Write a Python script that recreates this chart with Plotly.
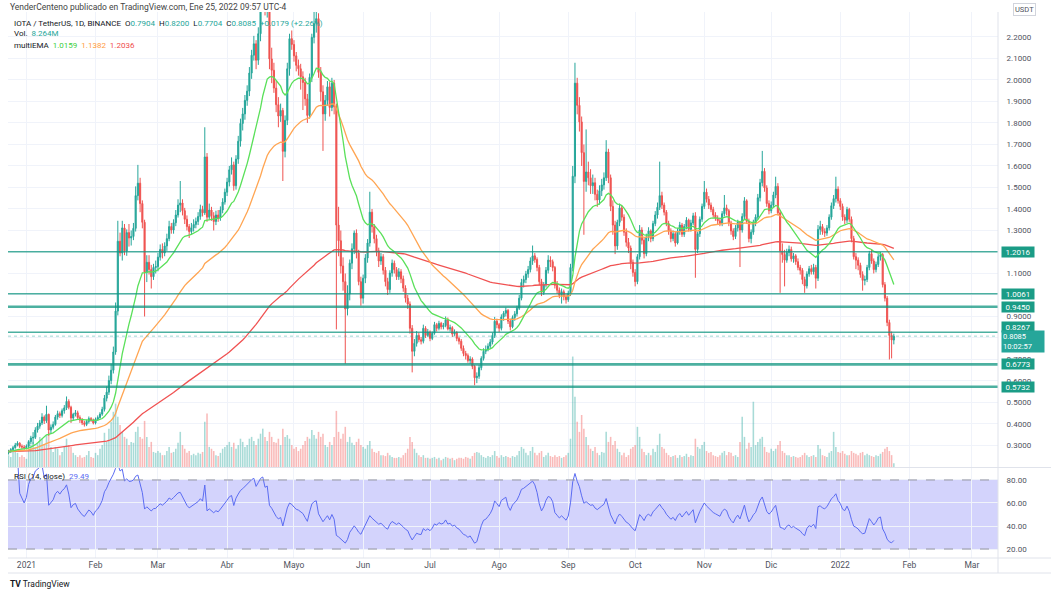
import numpy as np
import pandas as pd
import plotly.graph_objects as go

# ---------------- data ----------------
START_DATE = "2020-12-24"
FIRST_OPEN = 0.265

CLOSE = [
    0.272, 0.281, 0.290, 0.302, 0.311, 0.296, 0.293,
    0.290, 0.296, 0.318, 0.335, 0.338, 0.372, 0.390,
    0.405, 0.432, 0.415, 0.445, 0.372, 0.385, 0.398,
    0.432, 0.448, 0.440, 0.462, 0.475, 0.505, 0.478,
    0.428, 0.445, 0.452, 0.430, 0.418, 0.405, 0.398,
    0.412, 0.425, 0.418, 0.405, 0.422, 0.430, 0.446,
    0.468, 0.520, 0.548, 0.602, 0.650, 0.735, 0.925,
    1.250, 1.195, 1.312, 1.205, 1.290, 1.265, 1.272,
    1.310, 1.462, 1.520, 1.425, 1.338, 1.105, 1.152,
    1.118, 1.085, 1.128, 1.132, 1.176, 1.212, 1.195,
    1.228, 1.262, 1.318, 1.302, 1.336, 1.372, 1.418,
    1.428, 1.392, 1.352, 1.318, 1.295, 1.312, 1.328,
    1.342, 1.365, 1.398, 1.382, 1.642, 1.362, 1.395,
    1.368, 1.342, 1.372, 1.358, 1.395, 1.432, 1.478,
    1.525, 1.582, 1.605, 1.508, 1.632, 1.715, 1.798,
    1.842, 1.905, 1.948, 2.032, 2.115, 2.168, 2.092,
    2.215, 2.385, 2.452, 2.335, 2.380, 2.098, 2.045,
    1.962, 1.885, 1.832, 1.858, 1.668, 1.812, 2.052,
    2.192, 2.165, 2.112, 2.068, 2.052, 2.015, 1.988,
    1.912, 1.835, 2.012, 2.198, 2.262, 2.285, 2.035,
    1.945, 1.842, 1.905, 1.968, 1.872, 1.985, 1.875,
    1.325, 1.252, 1.135, 1.062, 0.935, 1.005, 1.148,
    1.215, 1.288, 1.195, 1.062, 0.985, 1.078, 1.172,
    1.242, 1.385, 1.318, 1.262, 1.205, 1.158, 1.178,
    1.115, 1.062, 1.025, 1.102, 1.148, 1.118, 1.085,
    1.108, 1.075, 1.032, 0.985, 0.958, 0.845, 0.738,
    0.775, 0.812, 0.792, 0.785, 0.845, 0.812, 0.828,
    0.798, 0.822, 0.862, 0.845, 0.868, 0.852, 0.858,
    0.885, 0.842, 0.848, 0.818, 0.825, 0.798, 0.785,
    0.752, 0.728, 0.718, 0.695, 0.702, 0.668, 0.615,
    0.622, 0.662, 0.705, 0.738, 0.745, 0.762, 0.781,
    0.812, 0.878, 0.862, 0.845, 0.898, 0.915, 0.928,
    0.878, 0.852, 0.895, 0.912, 0.938, 0.985, 1.058,
    1.072, 1.098, 1.118, 1.158, 1.182, 1.165, 1.128,
    1.062, 1.012, 1.048, 1.115, 1.162, 1.155, 1.128,
    1.045, 1.022, 0.998, 1.015, 0.992, 0.978, 1.008,
    1.128, 1.552, 1.985, 1.882, 1.805, 1.662, 1.528,
    1.572, 1.545, 1.508, 1.522, 1.468, 1.442, 1.485,
    1.512, 1.545, 1.665, 1.545, 1.412, 1.325, 1.228,
    1.338, 1.405, 1.362, 1.292, 1.245, 1.218, 1.152,
    1.105, 1.062, 1.178, 1.302, 1.255, 1.192, 1.268,
    1.298, 1.262, 1.332, 1.372, 1.408, 1.462, 1.418,
    1.385, 1.332, 1.298, 1.262, 1.285, 1.242, 1.295,
    1.325, 1.282, 1.318, 1.348, 1.305, 1.335, 1.368,
    1.212, 1.285, 1.352, 1.412, 1.478, 1.445, 1.418,
    1.398, 1.372, 1.358, 1.345, 1.332, 1.378, 1.405,
    1.392, 1.335, 1.298, 1.272, 1.312, 1.338, 1.302,
    1.365, 1.438, 1.342, 1.262, 1.292, 1.335, 1.362,
    1.452, 1.522, 1.575, 1.498, 1.425, 1.392, 1.418,
    1.465, 1.505, 1.382, 1.205, 1.188, 1.162, 1.198,
    1.212, 1.168, 1.182, 1.155, 1.128, 1.115, 1.072,
    1.042, 1.098, 1.122, 1.108, 1.128, 1.078, 1.305,
    1.318, 1.295, 1.288, 1.312, 1.362, 1.415, 1.448,
    1.492, 1.438, 1.412, 1.362, 1.348, 1.398, 1.352,
    1.262, 1.178, 1.162, 1.138, 1.095, 1.068, 1.072,
    1.128, 1.192, 1.158, 1.118, 1.142, 1.178, 1.188,
    1.048, 0.985, 0.872, 0.812, 0.7904, 0.8085,
]

HIGH = [
    0.280, 0.288, 0.298, 0.312, 0.320, 0.315, 0.305,
    0.302, 0.305, 0.325, 0.345, 0.362, 0.385, 0.405,
    0.418, 0.450, 0.440, 0.485, 0.448, 0.398, 0.412,
    0.442, 0.462, 0.458, 0.472, 0.488, 0.528, 0.515,
    0.485, 0.452, 0.465, 0.462, 0.440, 0.428, 0.415,
    0.420, 0.435, 0.432, 0.425, 0.430, 0.440, 0.455,
    0.480, 0.535, 0.575, 0.625, 0.680, 0.760, 0.965,
    1.345, 1.290, 1.345, 1.330, 1.305, 1.330, 1.300,
    1.335, 1.505, 1.605, 1.545, 1.440, 1.350, 1.185,
    1.185, 1.140, 1.145, 1.160, 1.195, 1.235, 1.240,
    1.245, 1.285, 1.345, 1.335, 1.352, 1.395, 1.445,
    1.530, 1.445, 1.405, 1.370, 1.330, 1.335, 1.352,
    1.360, 1.385, 1.420, 1.415, 1.780, 1.660, 1.425,
    1.410, 1.385, 1.392, 1.395, 1.412, 1.450, 1.495,
    1.545, 1.600, 1.640, 1.620, 1.650, 1.740, 1.820,
    1.870, 1.930, 1.975, 2.060, 2.140, 2.205, 2.185,
    2.245, 2.420, 2.620, 2.480, 2.420, 2.400, 2.150,
    2.080, 1.995, 1.920, 1.890, 1.870, 1.835, 2.080,
    2.215, 2.230, 2.185, 2.130, 2.095, 2.075, 2.040,
    2.010, 1.935, 2.030, 2.215, 2.320, 2.340, 2.310,
    2.060, 1.975, 1.930, 1.995, 1.990, 2.010, 2.000,
    1.890, 1.410, 1.300, 1.175, 1.100, 1.045, 1.165,
    1.240, 1.300, 1.305, 1.210, 1.085, 1.095, 1.190,
    1.260, 1.480, 1.400, 1.330, 1.280, 1.220, 1.195,
    1.190, 1.130, 1.080, 1.115, 1.165, 1.160, 1.130,
    1.125, 1.120, 1.090, 1.045, 1.000, 0.970, 0.860,
    0.795, 0.832, 0.825, 0.805, 0.862, 0.855, 0.842,
    0.835, 0.830, 0.875, 0.870, 0.880, 0.875, 0.870,
    0.900, 0.895, 0.862, 0.855, 0.840, 0.832, 0.805,
    0.795, 0.765, 0.740, 0.728, 0.715, 0.710, 0.675,
    0.640, 0.675, 0.715, 0.752, 0.765, 0.775, 0.795,
    0.825, 0.898, 0.890, 0.870, 0.910, 0.925, 0.942,
    0.935, 0.890, 0.905, 0.925, 0.950, 1.000, 1.075,
    1.090, 1.112, 1.135, 1.175, 1.230, 1.195, 1.175,
    1.140, 1.075, 1.060, 1.130, 1.185, 1.180, 1.165,
    1.135, 1.065, 1.035, 1.030, 1.025, 1.005, 1.020,
    1.145, 1.600, 2.080, 2.010, 1.920, 1.830, 1.700,
    1.770, 1.620, 1.585, 1.560, 1.545, 1.490, 1.510,
    1.540, 1.570, 1.720, 1.680, 1.560, 1.440, 1.345,
    1.350, 1.425, 1.415, 1.375, 1.310, 1.265, 1.230,
    1.165, 1.120, 1.190, 1.325, 1.315, 1.265, 1.285,
    1.315, 1.305, 1.345, 1.390, 1.430, 1.620, 1.480,
    1.430, 1.395, 1.345, 1.310, 1.300, 1.295, 1.310,
    1.340, 1.335, 1.330, 1.362, 1.355, 1.350, 1.382,
    1.385, 1.295, 1.365, 1.425, 1.530, 1.495, 1.460,
    1.430, 1.410, 1.385, 1.370, 1.360, 1.390, 1.465,
    1.420, 1.400, 1.345, 1.310, 1.325, 1.350, 1.345,
    1.380, 1.455, 1.445, 1.355, 1.305, 1.350, 1.375,
    1.470, 1.540, 1.670, 1.590, 1.510, 1.440, 1.435,
    1.480, 1.550, 1.520, 1.395, 1.240, 1.210, 1.215,
    1.230, 1.225, 1.195, 1.190, 1.170, 1.140, 1.125,
    1.085, 1.110, 1.135, 1.140, 1.145, 1.140, 1.325,
    1.345, 1.330, 1.310, 1.325, 1.375, 1.430, 1.465,
    1.550, 1.505, 1.450, 1.425, 1.375, 1.410, 1.405,
    1.365, 1.275, 1.195, 1.175, 1.150, 1.110, 1.090,
    1.140, 1.205, 1.210, 1.170, 1.155, 1.190, 1.200,
    1.195, 1.060, 0.995, 0.885, 0.830, 0.8200,
]

LOW = [
    0.258, 0.265, 0.274, 0.285, 0.296, 0.288, 0.282,
    0.280, 0.282, 0.288, 0.305, 0.305, 0.330, 0.360,
    0.378, 0.395, 0.400, 0.405, 0.345, 0.355, 0.375,
    0.392, 0.420, 0.428, 0.430, 0.448, 0.465, 0.468,
    0.405, 0.418, 0.435, 0.422, 0.405, 0.395, 0.388,
    0.390, 0.402, 0.410, 0.398, 0.398, 0.415, 0.425,
    0.438, 0.458, 0.505, 0.535, 0.585, 0.635, 0.722,
    0.905, 1.180, 1.160, 1.185, 1.182, 1.225, 1.230,
    1.255, 1.295, 1.440, 1.385, 1.310, 0.900, 1.060,
    1.095, 1.030, 1.070, 1.100, 1.110, 1.160, 1.170,
    1.180, 1.205, 1.250, 1.285, 1.285, 1.320, 1.360,
    1.385, 1.370, 1.330, 1.300, 1.265, 1.280, 1.295,
    1.310, 1.325, 1.350, 1.365, 1.372, 1.340, 1.350,
    1.345, 1.300, 1.325, 1.340, 1.345, 1.380, 1.420,
    1.460, 1.505, 1.560, 1.485, 1.490, 1.610, 1.690,
    1.765, 1.815, 1.880, 1.925, 2.005, 2.090, 2.050,
    2.070, 2.180, 2.350, 2.300, 2.290, 2.050, 1.985,
    1.940, 1.850, 1.780, 1.805, 1.530, 1.640, 1.790,
    2.020, 2.140, 2.085, 2.040, 2.020, 1.955, 1.860,
    1.880, 1.800, 1.820, 1.990, 2.170, 2.220, 2.010,
    1.900, 1.670, 1.810, 1.880, 1.830, 1.855, 1.840,
    0.840, 1.180, 1.100, 1.020, 0.680, 0.905, 0.975,
    1.120, 1.190, 1.170, 1.045, 0.950, 0.960, 1.055,
    1.150, 1.225, 1.290, 1.240, 1.180, 1.130, 1.140,
    1.095, 1.040, 1.000, 1.010, 1.085, 1.100, 1.070,
    1.070, 1.055, 1.015, 0.965, 0.935, 0.820, 0.640,
    0.715, 0.760, 0.780, 0.770, 0.775, 0.800, 0.805,
    0.785, 0.790, 0.815, 0.830, 0.835, 0.840, 0.840,
    0.850, 0.835, 0.830, 0.805, 0.810, 0.785, 0.770,
    0.740, 0.715, 0.700, 0.685, 0.680, 0.655, 0.580,
    0.590, 0.610, 0.650, 0.695, 0.725, 0.738, 0.750,
    0.770, 0.800, 0.845, 0.828, 0.835, 0.880, 0.900,
    0.865, 0.835, 0.845, 0.880, 0.900, 0.930, 0.975,
    1.035, 1.055, 1.080, 1.105, 1.140, 1.150, 1.110,
    1.045, 0.995, 1.000, 1.035, 1.100, 1.130, 1.110,
    1.030, 1.005, 0.985, 0.960, 0.975, 0.960, 0.968,
    0.995, 1.110, 1.520, 1.840, 1.760, 1.600, 1.280,
    1.480, 1.510, 1.470, 1.470, 1.440, 1.410, 1.420,
    1.460, 1.490, 1.530, 1.520, 1.390, 1.280, 1.190,
    1.210, 1.320, 1.345, 1.275, 1.225, 1.195, 1.120,
    1.085, 1.040, 1.050, 1.165, 1.235, 1.170, 1.180,
    1.250, 1.245, 1.250, 1.320, 1.355, 1.395, 1.400,
    1.370, 1.320, 1.280, 1.245, 1.250, 1.225, 1.235,
    1.280, 1.270, 1.270, 1.305, 1.295, 1.295, 1.325,
    1.080, 1.195, 1.270, 1.340, 1.400, 1.430, 1.400,
    1.385, 1.360, 1.345, 1.330, 1.320, 1.320, 1.365,
    1.370, 1.320, 1.280, 1.255, 1.260, 1.295, 1.130,
    1.290, 1.350, 1.330, 1.245, 1.240, 1.280, 1.320,
    1.350, 1.435, 1.505, 1.480, 1.410, 1.375, 1.380,
    1.405, 1.450, 1.370, 1.010, 1.150, 1.040, 1.150,
    1.180, 1.155, 1.150, 1.140, 1.115, 1.095, 1.050,
    1.010, 1.030, 1.085, 1.095, 1.095, 1.030, 1.065,
    1.280, 1.280, 1.270, 1.275, 1.300, 1.350, 1.400,
    1.430, 1.425, 1.395, 1.345, 1.330, 1.335, 1.340,
    1.245, 1.165, 1.120, 1.115, 1.080, 1.020, 1.045,
    1.060, 1.115, 1.145, 1.100, 1.105, 1.130, 1.160,
    1.035, 0.970, 0.855, 0.700, 0.705, 0.7704,
]

VOLUME_M = [
    26, 22, 33, 40, 31, 22, 26,
    22, 18, 40, 48, 55, 44, 53,
    66, 62, 48, 70, 77, 44, 33,
    44, 40, 26, 33, 44, 62, 48,
    44, 31, 26, 22, 26, 20, 22,
    26, 35, 22, 20, 31, 26, 40,
    48, 75, 55, 84, 99, 121, 139,
    110, 92, 77, 66, 62, 48, 55,
    53, 77, 88, 66, 62, 101, 66,
    44, 55, 33, 31, 35, 31, 26,
    26, 35, 44, 31, 33, 40, 53,
    77, 48, 40, 31, 35, 26, 29,
    26, 31, 29, 33, 99, 117, 44,
    40, 35, 26, 24, 31, 40, 44,
    48, 55, 44, 53, 40, 48, 62,
    55, 44, 48, 62, 66, 57, 48,
    62, 73, 84, 66, 57, 77, 66,
    55, 53, 62, 48, 84, 66, 70,
    62, 48, 40, 44, 35, 40, 48,
    57, 66, 62, 81, 70, 62, 77,
    66, 73, 48, 44, 55, 48, 66,
    123, 77, 62, 73, 88, 55, 66,
    53, 48, 55, 62, 48, 44, 40,
    48, 57, 40, 33, 31, 35, 26,
    26, 24, 31, 26, 22, 20, 20,
    22, 20, 26, 31, 40, 66, 55,
    40, 31, 26, 22, 26, 20, 20,
    18, 20, 22, 18, 20, 15, 18,
    22, 20, 18, 20, 15, 18, 20,
    20, 18, 22, 20, 18, 24, 31,
    33, 31, 26, 22, 20, 24, 22,
    26, 35, 24, 20, 26, 22, 24,
    22, 20, 24, 22, 26, 35, 44,
    40, 31, 26, 35, 44, 31, 26,
    31, 35, 22, 26, 31, 24, 22,
    26, 22, 24, 20, 22, 26, 31,
    62, 242, 154, 99, 77, 114, 84,
    66, 48, 40, 35, 44, 31, 26,
    33, 31, 77, 55, 66, 48, 57,
    40, 33, 26, 31, 22, 26, 40,
    44, 48, 88, 66, 40, 33, 26,
    31, 26, 40, 33, 48, 73, 44,
    40, 31, 26, 22, 24, 26, 20,
    26, 22, 24, 29, 22, 26, 24,
    62, 44, 40, 48, 55, 35, 31,
    33, 26, 24, 22, 26, 31, 35,
    26, 33, 31, 24, 26, 22, 55,
    110, 66, 40, 53, 44, 143, 48,
    55, 62, 66, 44, 33, 31, 40,
    35, 40, 48, 57, 35, 31, 26,
    26, 22, 24, 22, 20, 22, 26,
    31, 26, 22, 24, 26, 22, 48,
    40, 26, 24, 22, 31, 35, 77,
    44, 33, 31, 35, 29, 26, 26,
    35, 31, 29, 26, 31, 33, 26,
    29, 26, 24, 22, 26, 24, 29,
    33, 40, 44, 35, 26, 8.264,
]

LEVELS = [1.2016, 1.0061, 0.9450, 0.8267, 0.6773, 0.5732]
LAST_PRICE = 0.8085
PRICE_TICKS = [0.3, 0.4, 0.5, 0.6, 0.7, 0.8, 0.9, 1.0, 1.1, 1.2, 1.3, 1.4,
               1.5, 1.6, 1.7, 1.8, 1.9, 2.0, 2.1, 2.2]
HIDDEN_TICKS = [0.8]          # covered by the last-price label in the picture
MONTH_TICKS = ["2021-01-01", "2021-02-01", "2021-03-01", "2021-04-01", "2021-05-01",
               "2021-06-01", "2021-07-01", "2021-08-01", "2021-09-01", "2021-10-01",
               "2021-11-01", "2021-12-01", "2022-01-01", "2022-02-01", "2022-03-01"]
MONTH_LABELS = ["2021", "Feb", "Mar", "Abr", "Mayo", "Jun", "Jul", "Ago", "Sep",
                "Oct", "Nov", "Dic", "2022", "Feb", "Mar"]
RSI_TICKS = [20, 40, 60, 80]

n = len(CLOSE)
assert len(HIGH) == n and len(LOW) == n and len(VOLUME_M) == n

# ---------------- derived series ----------------
dates = pd.date_range(START_DATE, periods=n, freq="D")
opens = [FIRST_OPEN] + CLOSE[:-1]
highs = [max(h, o, c) for h, o, c in zip(HIGH, opens, CLOSE)]
lows = [min(l, o, c) for l, o, c in zip(LOW, opens, CLOSE)]
cl = pd.Series(CLOSE)
ema20 = cl.ewm(span=20, adjust=False).mean()
ema50 = cl.ewm(span=50, adjust=False).mean()
ema200 = cl.ewm(span=200, adjust=False).mean()
delta = cl.diff()
gain = delta.clip(lower=0)
loss = (-delta).clip(lower=0)
avg_g = gain.ewm(alpha=1 / 14, adjust=True).mean()
avg_l = loss.ewm(alpha=1 / 14, adjust=True).mean()
rsi = 100 - 100 / (1 + avg_g / avg_l)

UP = "#26a69a"
DN = "#ef5350"
vol_colors = ["rgba(38,166,154,0.40)" if c >= o else "rgba(239,83,80,0.40)"
              for o, c in zip(opens, CLOSE)]

# pixel helpers for layout text placement
TOP, BOT = 12, 558
def px2x(px):
    return (px - 8) / 990.0
def py2y(py):
    return (BOT - py) / float(BOT - TOP)

MAIN_BOTTOM = py2y(467)
RSI_TOP = py2y(468)

fig = go.Figure()
fig.add_trace(go.Bar(x=dates, y=VOLUME_M, marker=dict(color=vol_colors, line=dict(width=0)),
                     xaxis="x", yaxis="y", hoverinfo="skip", showlegend=False))
fig.add_trace(go.Candlestick(
    x=dates, open=opens, high=highs, low=lows, close=CLOSE,
    increasing=dict(line=dict(color=UP, width=1), fillcolor=UP),
    decreasing=dict(line=dict(color=DN, width=1), fillcolor=DN),
    xaxis="x", yaxis="y3", showlegend=False, hoverinfo="skip"))
fig.add_trace(go.Scatter(x=dates, y=ema200, mode="lines", line=dict(color="#f05252", width=1.3),
                         xaxis="x", yaxis="y3", showlegend=False, hoverinfo="skip"))
fig.add_trace(go.Scatter(x=dates, y=ema50, mode="lines", line=dict(color="#ffa552", width=1.3),
                         xaxis="x", yaxis="y3", showlegend=False, hoverinfo="skip"))
fig.add_trace(go.Scatter(x=dates, y=ema20, mode="lines", line=dict(color="#5ae05a", width=1.3),
                         xaxis="x", yaxis="y3", showlegend=False, hoverinfo="skip"))
fig.add_trace(go.Scatter(x=dates, y=rsi, mode="lines", line=dict(color="#5b6cf2", width=1),
                         xaxis="x2", yaxis="y2", showlegend=False, hoverinfo="skip"))

xrange = ["2020-12-23 18:00", "2022-03-12 17:00"]
GRID = "#f0f3fa"
TICKFONT = dict(family="Roboto, Arial", size=8, color="#50535e")
price_text = ["" if v in HIDDEN_TICKS else "%.4f" % v for v in PRICE_TICKS]

fig.update_layout(
    width=1052, height=592,
    margin=dict(l=8, r=54, t=TOP, b=592 - BOT, autoexpand=False),
    paper_bgcolor="white", plot_bgcolor="white",
    bargap=0.3,
    hovermode=False,
    font=dict(family="Roboto, Arial", size=8, color="#131722"),
    xaxis=dict(domain=[0, 1], anchor="y", range=xrange, type="date",
               tickvals=MONTH_TICKS, showticklabels=False, ticks="",
               showgrid=True, gridcolor=GRID, zeroline=False, automargin=False,
               rangeslider=dict(visible=False)),
    yaxis=dict(domain=[MAIN_BOTTOM, 1], anchor="x", range=[0, 997], visible=False,
               showgrid=False, zeroline=False, automargin=False),
    yaxis3=dict(overlaying="y", anchor="x", side="right", range=[0.2, 2.316],
                tickvals=PRICE_TICKS, ticktext=price_text,
                showgrid=True, gridcolor=GRID, zeroline=False, automargin=False,
                ticks="outside", ticklen=6, tickcolor="rgba(0,0,0,0)",
                tickfont=TICKFONT),
    xaxis2=dict(domain=[0, 1], anchor="y2", range=xrange, type="date",
                tickvals=MONTH_TICKS, ticktext=MONTH_LABELS, ticks="",
                showgrid=True, gridcolor=GRID, zeroline=False, automargin=False,
                tickfont=dict(family="Roboto, Arial", size=8.5, color="#50535e")),
    yaxis2=dict(domain=[0, RSI_TOP], anchor="x2", side="right", range=[12.2, 90.4],
                tickvals=RSI_TICKS, ticktext=["%.2f" % v for v in RSI_TICKS],
                showgrid=True, gridcolor=GRID, zeroline=False, automargin=False,
                ticks="outside", ticklen=6, tickcolor="rgba(0,0,0,0)",
                tickfont=TICKFONT),
)

shapes = []
# RSI band
shapes.append(dict(type="rect", xref="paper", x0=0, x1=1, yref="y2", y0=20, y1=80,
                   fillcolor="rgba(120,120,245,0.33)", line=dict(width=0), layer="below"))
for v in (20, 80):
    shapes.append(dict(type="line", xref="paper", x0=0, x1=1, yref="y2", y0=v, y1=v,
                       line=dict(color="#9598a1", width=1, dash="dash")))
# horizontal support / resistance lines
thick = {0.9450, 0.6773, 0.5732}
for lv in LEVELS:
    shapes.append(dict(type="line", xref="paper", x0=0, x1=1, yref="y3", y0=lv, y1=lv,
                       line=dict(color="rgba(16,150,128,0.75)", width=2.6 if lv in thick else 1.5)))
# last price dotted line
shapes.append(dict(type="line", xref="paper", x0=0, x1=1, yref="y3", y0=LAST_PRICE, y1=LAST_PRICE,
                   line=dict(color="rgba(38,166,154,0.45)", width=1, dash="dot")))
# frame lines
FR = "#e0e3eb"
xr = px2x(1051)
shapes += [
    dict(type="line", xref="paper", yref="paper", x0=0, x1=xr, y0=py2y(467.5), y1=py2y(467.5), line=dict(color=FR, width=1)),
    dict(type="line", xref="paper", yref="paper", x0=0, x1=xr, y0=0, y1=0, line=dict(color=FR, width=1)),
    dict(type="line", xref="paper", yref="paper", x0=0, x1=xr, y0=py2y(573), y1=py2y(573), line=dict(color=FR, width=1)),
    dict(type="line", xref="paper", yref="paper", x0=1, x1=1, y0=py2y(573), y1=1, line=dict(color=FR, width=1)),
]
fig.update_layout(shapes=shapes)

ann = []
def text(px, py, s, size=8, color="#131722", xanchor="left"):
    ann.append(dict(xref="paper", yref="paper", x=px2x(px), y=py2y(py), text=s, showarrow=False,
                    xanchor=xanchor, yanchor="middle", font=dict(size=size, color=color)))

T = "#26a69a"
text(8, 7, "YenderCenteno publicado en TradingView.com, Ene 25, 2022 09:57 UTC-4", 8.5, "#444")
text(12, 23, "IOTA / TetherUS, 1D, BINANCE&nbsp;&nbsp;"
     "O<span style='color:%s'>0.7904</span>&nbsp;&nbsp;H<span style='color:%s'>0.8200</span>&nbsp;&nbsp;"
     "L<span style='color:%s'>0.7704</span>&nbsp;&nbsp;C<span style='color:%s'>0.8085</span>&nbsp;&nbsp;"
     "<span style='color:%s'>+0.0179 (+2.26%%)</span>" % (T, T, T, T, T))
text(12, 34, "Vol.&nbsp;&nbsp;<span style='color:%s'>8.264M</span>" % T)
text(12, 45, "multiEMA&nbsp;&nbsp;<span style='color:#3ccf3c'>1.0159</span>&nbsp;&nbsp;"
     "<span style='color:#ff9a3c'>1.1382</span>&nbsp;&nbsp;<span style='color:#ef4d4d'>1.2036</span>")
text(12, 476, "RSI (14, close)&nbsp;&nbsp;<span style='color:#5b6cf2'>29.49</span>")
text(8, 584, "<b>TV</b> TradingView", 8.5, "#131722")

ann.append(dict(xref="paper", yref="paper", x=px2x(1024), y=py2y(9), text="USDT", showarrow=False,
                xanchor="center", yanchor="middle", font=dict(size=7.5, color="#50535e"),
                bordercolor="#d1d4dc", borderwidth=1, borderpad=1, bgcolor="white"))

for lv in LEVELS:
    ann.append(dict(xref="paper", yref="y3", x=px2x(1001), y=lv, text="%.4f" % lv, showarrow=False,
                    xanchor="left", yanchor="middle", yshift=5 if lv == 0.8267 else 0,
                    font=dict(size=8, color="white"), bgcolor="#1a9c86",
                    width=32, height=10, align="center", borderpad=0))
ann.append(dict(xref="paper", yref="y3", x=px2x(1001), y=LAST_PRICE,
                text="0.8085<br>10:02:57", showarrow=False, xanchor="left", yanchor="middle",
                yshift=-5, font=dict(size=7.5, color="white"), bgcolor="#26a69a",
                width=40, height=19, align="left", borderpad=1))
fig.update_layout(annotations=ann)

# the page body has an 8px default margin; remove it so the figure sits at the window's corner
fig.write_html("out.html", config={"displayModeBar": False},
               post_script="document.body.style.margin='0px';")
